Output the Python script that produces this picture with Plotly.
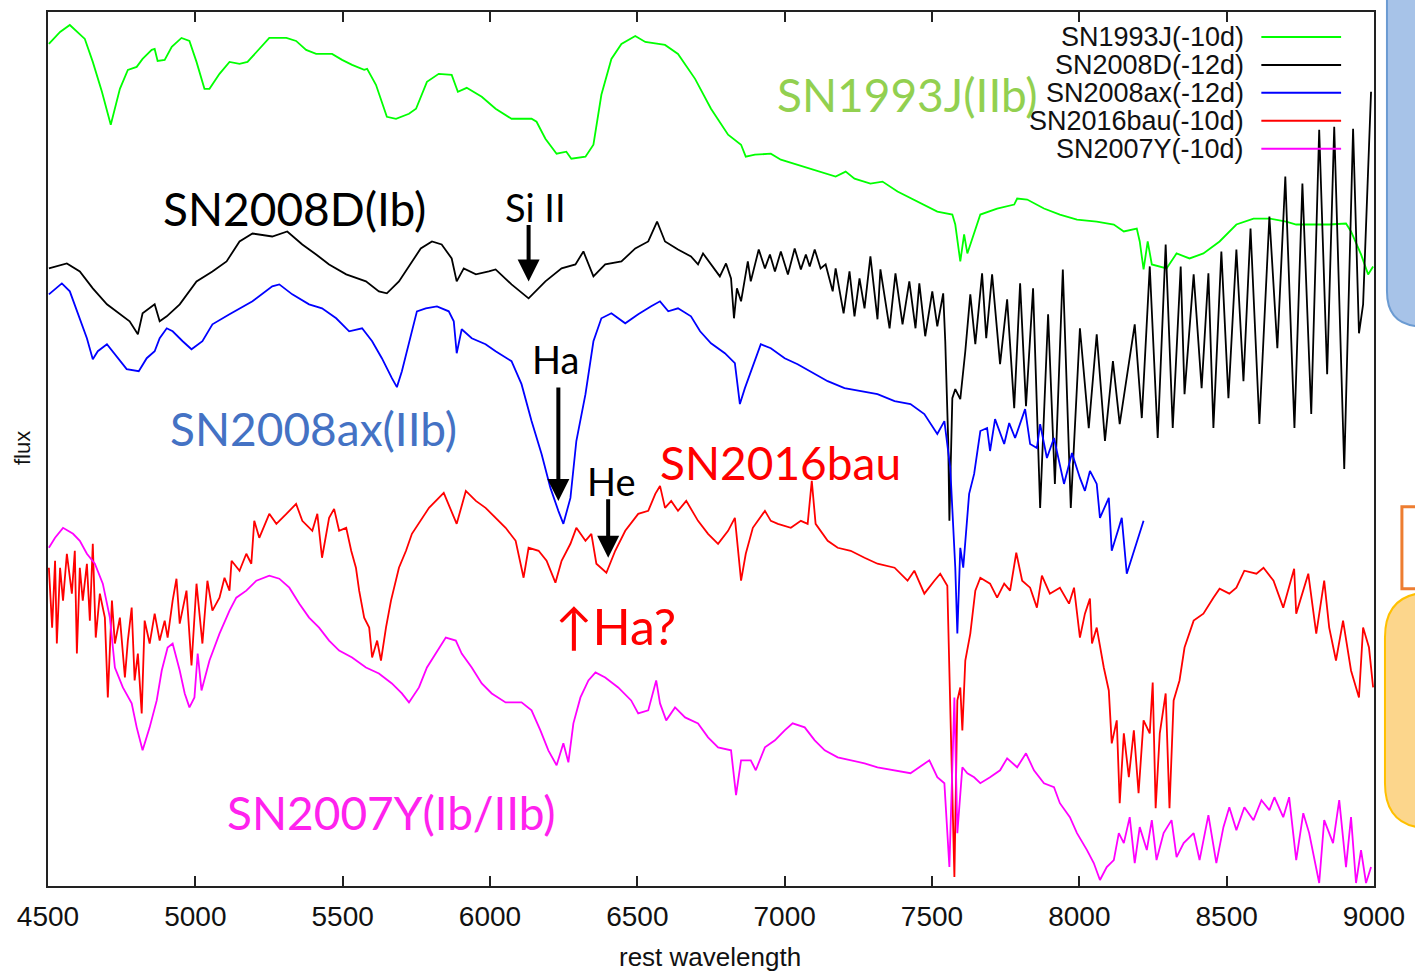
import plotly.graph_objects as go

# ---------------- data (rest wavelength [A], flux [arbitrary, offset]) ----------------
sn1993j = [(4503,844),(4541,856),(4574,863),(4598,856),(4625,849),(4652,826),(4683,796),(4713,763),(4744,799),(4771,818),
 (4801,821),(4821,829),(4852,838),(4862,839),(4872,827),(4896,828),(4920,841),(4953,850),(4980,847),(5004,826),
 (5031,799),(5048,799),(5082,814),(5116,826),(5150,824),(5177,826),(5207,836),(5251,850),(5309,850),(5342,847),
 (5376,838),(5410,834),(5464,834),(5498,828),(5532,823),(5573,818),(5583,819),(5613,803),(5650,771),(5681,769),
 (5725,774),(5749,779),(5786,806),(5826,814),(5870,813),(5891,796),(5921,800),(5972,791),(6019,779),(6073,769),
 (6141,769),(6158,766),(6188,749),(6226,734),(6259,736),(6276,729),(6324,731),(6351,743),(6378,793),(6412,829),
 (6446,844),(6493,852),(6527,846),(6594,843),(6638,834),(6696,809),(6750,779),(6808,753),(6852,743),(6868,731),
 (6899,733),(6953,734),(6987,728),(7044,723),(7102,718),(7173,711),(7207,716),(7237,709),(7291,704),(7332,706),
 (7383,696),(7450,686),(7518,676),(7569,673),(7579,663),(7596,626),(7609,653),(7620,634),(7636,649),(7664,673),
 (7721,679),(7779,683),(7789,689),(7823,688),(7880,679),(7934,673),(7992,668),(8059,666),(8117,663),(8151,656),
 (8195,659),(8205,646),(8218,618),(8232,646),(8246,623),(8296,619),(8330,634),(8374,629),(8421,634),(8476,646),
 (8533,663),(8591,669),(8645,669),(8702,666),(8736,663),(8794,663),(8848,663),(8905,664),(8922,656),(8956,633),
 (8980,613),(8997,621)]

sn2008d = [(4503,619),(4564,624),(4608,616),(4652,599),(4700,583),(4744,573),(4777,566),(4805,553),(4821,574),(4862,583),
 (4879,566),(4903,571),(4947,583),(5004,606),(5058,616),(5106,626),(5150,646),(5194,654),(5261,651),(5312,656),
 (5363,643),(5410,633),(5454,623),(5512,613),(5579,606),(5623,596),(5650,594),(5691,606),(5735,626),(5765,639),
 (5803,646),(5836,643),(5870,629),(5887,606),(5911,619),(5952,613),(5996,616),(6019,618),(6073,603),(6131,589),
 (6188,606),(6243,619),(6290,623),(6317,636),(6351,611),(6391,623),(6446,626),(6493,639),(6537,646),(6567,666),
 (6594,646),(6638,638),(6682,631),(6706,623),(6723,634),(6750,623),(6780,611),(6801,624),(6818,609),(6828,569),
 (6838,599),(6852,586),(6875,626),(6885,606),(6912,638),(6933,619),(6950,633),(6967,616),(6987,636),(7011,613),
 (7034,639),(7055,618),(7072,633),(7085,621),(7102,638),(7122,619),(7139,623),(7163,596),(7173,619),(7200,574),
 (7220,616),(7237,571),(7254,609),(7271,579),(7291,631),(7315,568),(7325,618),(7356,559),(7376,614),(7400,563),
 (7423,606),(7444,559),(7457,604),(7477,551),(7501,596),(7518,561),(7538,594),(7545,546),(7555,446),(7559,366),
 (7569,489),(7579,498),(7596,488),(7613,536),(7630,593),(7647,543),(7670,614),(7684,549),(7704,613),(7731,523),
 (7755,588),(7779,479),(7799,604),(7819,481),(7843,599),(7867,379),(7894,573),(7917,403),(7944,618),(7971,379),
 (8002,559),(8032,459),(8059,553),(8087,446),(8114,526),(8137,463),(8188,563),(8212,469),(8239,621),(8266,449),
 (8293,643),(8317,459),(8344,621),(8357,493),(8388,613),(8415,499),(8438,614),(8455,459),(8482,636),(8506,489),
 (8533,638),(8557,506),(8581,659),(8611,463),(8645,671),(8672,539),(8699,711),(8730,459),(8757,704),(8787,473),
 (8814,758),(8841,513),(8865,761),(8899,418),(8929,759),(8949,554),(8963,583),(8990,796)]

sn2008ax = [(4503,593),(4547,604),(4574,596),(4602,573),(4632,549),(4652,528),(4669,536),(4700,543),(4733,531),(4767,518),
 (4808,516),(4835,529),(4862,536),(4879,549),(4903,559),(4923,556),(4957,546),(4987,538),(5024,546),(5058,563),
 (5116,573),(5150,579),(5194,586),(5261,601),(5285,603),(5329,593),(5386,583),(5430,579),(5478,569),(5522,556),
 (5566,559),(5600,546),(5633,529),(5667,509),(5684,500),(5701,516),(5725,543),(5752,576),(5782,579),(5820,581),
 (5860,576),(5877,566),(5887,534),(5904,558),(5938,549),(5985,543),(6019,536),(6073,526),(6107,503),(6141,466),
 (6175,433),(6205,399),(6232,376),(6249,363),(6273,389),(6293,446),(6324,493),(6351,546),(6378,569),(6412,574),
 (6459,564),(6503,573),(6547,581),(6577,586),(6605,576),(6638,579),(6682,571),(6713,556),(6750,544),(6797,534),
 (6831,524),(6848,483),(6865,499),(6885,516),(6919,543),(6953,539),(7000,529),(7044,523),(7088,516),(7146,506),
 (7203,499),(7258,496),(7315,493),(7373,486),(7427,483),(7474,473),(7518,453),(7542,466),(7562,419),(7579,319),
 (7586,253),(7596,339),(7606,319),(7626,393),(7643,413),(7664,456),(7687,459),(7697,436),(7714,468),(7745,443),
 (7762,464),(7782,449),(7799,464),(7816,478),(7833,443),(7856,439),(7867,463),(7890,429),(7914,449),(7948,403),
 (7975,434),(8002,409),(8019,396),(8036,416),(8059,403),(8070,369),(8100,389),(8110,336),(8134,359),(8144,369),
 (8161,313),(8178,329),(8195,346),(8218,366)]

sn2016bau = [(4503,319),(4514,259),(4524,326),(4530,243),(4541,319),(4551,286),(4564,333),(4581,293),(4591,336),(4598,233),
 (4608,319),(4618,286),(4632,323),(4642,266),(4652,343),(4662,249),(4676,293),(4693,269),(4703,189),(4717,286),
 (4727,243),(4744,269),(4761,209),(4771,246),(4784,279),(4794,206),(4805,233),(4818,173),(4828,266),(4845,243),
 (4862,273),(4879,246),(4896,266),(4906,249),(4923,286),(4936,308),(4947,263),(4970,296),(4987,221),(5004,303),
 (5024,243),(5041,306),(5058,276),(5082,289),(5099,309),(5116,296),(5123,326),(5150,316),(5173,333),(5190,323),
 (5200,366),(5217,349),(5251,373),(5275,363),(5309,373),(5342,383),(5363,366),(5397,356),(5414,373),(5430,329),
 (5454,369),(5471,378),(5488,356),(5512,359),(5529,336),(5545,319),(5556,296),(5573,269),(5590,259),(5600,229),
 (5617,246),(5630,226),(5647,259),(5664,286),(5691,319),(5715,336),(5735,353),(5765,366),(5793,379),(5843,394),
 (5887,363),(5918,396),(5952,386),(5985,379),(6006,373),(6053,359),(6087,346),(6114,309),(6131,339),(6165,336),
 (6192,326),(6222,304),(6243,326),(6273,343),(6293,359),(6324,346),(6344,353),(6361,323),(6395,314),(6425,336),
 (6459,356),(6503,373),(6537,376),(6561,393),(6577,401),(6594,379),(6615,386),(6638,376),(6666,386),(6706,366),
 (6740,353),(6774,343),(6808,356),(6831,369),(6852,306),(6868,333),(6892,359),(6933,376),(6953,366),(6977,363),
 (7021,359),(7055,366),(7078,363),(7092,406),(7105,363),(7146,346),(7180,339),(7224,336),(7271,329),(7315,323),
 (7373,319),(7417,306),(7440,316),(7474,293),(7508,306),(7528,313),(7552,301),(7562,186),(7576,9),(7586,186),
 (7596,199),(7603,156),(7613,226),(7630,253),(7647,296),(7664,309),(7697,303),(7721,289),(7745,303),(7765,296),
 (7786,334),(7806,306),(7833,299),(7856,279),(7873,311),(7900,293),(7934,299),(7965,283),(7982,299),(8002,249),
 (8019,273),(8036,288),(8043,243),(8059,259),(8083,219),(8100,196),(8110,143),(8127,166),(8137,83),(8151,153),
 (8168,109),(8185,156),(8201,93),(8218,166),(8239,153),(8249,204),(8259,78),(8273,153),(8293,193),(8306,78),
 (8320,186),(8340,206),(8357,239),(8388,266),(8421,273),(8455,289),(8476,298),(8509,293),(8533,299),(8560,316),
 (8601,313),(8625,319),(8659,306),(8692,279),(8729,318),(8736,273),(8777,313),(8804,253),(8831,306),(8848,259),
 (8871,226),(8895,266),(8922,216),(8949,189),(8963,259),(8983,239),(8997,199)]

sn2007y = [(4503,339),(4524,349),(4551,359),(4585,353),(4608,346),(4632,333),(4659,323),(4686,303),(4710,269),(4727,219),
 (4754,199),(4784,183),(4801,159),(4821,136),(4845,159),(4869,186),(4886,216),(4906,239),(4923,243),(4947,216),
 (4964,193),(4980,179),(4997,189),(5008,233),(5021,196),(5048,226),(5082,253),(5116,276),(5139,289),(5173,296),
 (5207,306),(5251,311),(5285,308),(5319,299),(5353,283),(5386,269),(5420,259),(5454,246),(5488,236),(5532,229),
 (5579,219),(5623,213),(5667,203),(5701,193),(5725,184),(5759,199),(5786,219),(5816,233),(5850,249),(5884,246),
 (5904,233),(5938,219),(5972,203),(6006,193),(6053,184),(6107,184),(6141,176),(6171,156),(6198,136),(6226,121),
 (6249,143),(6266,124),(6283,163),(6307,189),(6334,206),(6358,214),(6391,209),(6435,199),(6479,186),(6503,173),
 (6537,176),(6564,206),(6577,183),(6598,166),(6628,179),(6662,169),(6706,163),(6740,149),(6774,139),(6818,136),
 (6835,91),(6852,126),(6885,126),(6902,116),(6933,139),(6967,146),(7000,156),(7027,163),(7068,159),(7102,146),
 (7136,136),(7180,129),(7224,126),(7271,123),(7315,119),(7373,116),(7427,113),(7491,126),(7518,109),(7542,103),
 (7559,19),(7576,189),(7586,53),(7603,119),(7620,113),(7643,109),(7664,103),(7697,109),(7731,116),(7755,128),
 (7789,119),(7819,133),(7846,116),(7880,103),(7914,99),(7934,83),(7968,69),(7992,53),(8026,36),(8049,23),
 (8070,6),(8093,19),(8117,26),(8134,53),(8151,43),(8171,69),(8188,23),(8205,59),(8229,36),(8246,66),
 (8262,26),(8286,53),(8313,66),(8330,29),(8354,43),(8388,53),(8408,26),(8438,71),(8465,23),(8489,59),
 (8509,79),(8533,56),(8560,79),(8591,66),(8618,86),(8645,76),(8662,89),(8692,69),(8712,89),(8736,26),
 (8760,73),(8780,53),(8814,3),(8831,66),(8861,43),(8882,86),(8905,19),(8922,69),(8939,3),(8956,36),
 (8973,3),(8990,19)]

spectra = [sn1993j, sn2008d, sn2008ax, sn2016bau, sn2007y]
legend_labels = ["SN1993J(-10d)", "SN2008D(-12d)", "SN2008ax(-12d)", "SN2016bau(-10d)", "SN2007Y(-10d)"]
line_colors = ["#00ff00", "#000000", "#0000ff", "#ff0000", "#ff00ff"]
x_ticks = [4500, 5000, 5500, 6000, 6500, 7000, 7500, 8000, 8500, 9000]

# ---------------- layout geometry ----------------
W, H = 1415, 971
ML, MR, MT, MB = 48, 37, 10, 85
PW, PH = W - ML - MR, H - MT - MB


def px(x):  # pixel x -> paper
    return (x - ML) / PW


def py(y):  # pixel y -> paper
    return (H - MB - y) / PH


fig = go.Figure()
for pts, name, col in zip(spectra, legend_labels, line_colors):
    xs = [p[0] for p in pts]
    ys = [p[1] for p in pts]
    fig.add_trace(go.Scatter(x=xs, y=ys, mode="lines", name=name,
                             line=dict(color=col, width=1.8), showlegend=False))

annotations = []
shapes = []

# gnuplot-style key (text right-aligned, sample line on the right)
for i, (name, col) in enumerate(zip(legend_labels, line_colors)):
    yy = 35 + 28 * i
    annotations.append(dict(xref="paper", yref="paper", x=px(1250), y=py(yy), text=name,
                            showarrow=False, xanchor="right", yanchor="middle",
                            font=dict(family="Liberation Sans", size=27, color="#111")))
    shapes.append(dict(type="line", xref="paper", yref="paper", x0=px(1265), x1=px(1345),
                       y0=py(yy), y1=py(yy), line=dict(color=col, width=2)))

big = "Lato"
labels = [
    ("SN1993J(IIb)", 910, 93, "#92d050", 46),
    ("SN2008D(Ib)", 295, 207, "#000000", 46),
    ("Si II", 537, 205, "#000000", 38),
    ("SN2008ax(IIb)", 314, 427, "#4472c4", 46),
    ("Ha", 557, 358, "#000000", 38),
    ("He", 613, 480, "#000000", 38),
    ("SN2016bau", 783, 462, "#ff0000", 46),
    ("↑Ha?", 617, 625, "#ff0000", 50),
    ("SN2007Y(Ib/IIb)", 393, 812, "#ff22ee", 46),
]
for t, x, y, c, s in labels:
    annotations.append(dict(xref="paper", yref="paper", x=px(x), y=py(y), text=t,
                            showarrow=False, xanchor="center", yanchor="middle",
                            font=dict(family=big, size=s, color=c)))

# feature arrows (tip at wavelength/flux, tail offset in pixels)
arrows = [(6131, 606, -58), (6232, 386, -115), (6401, 329, -60)]
for x, y, ay in arrows:
    annotations.append(dict(x=x, y=y, xref="x", yref="y", ax=0, ay=ay, text="",
                            showarrow=True, arrowhead=2, arrowsize=1.1, arrowwidth=4,
                            arrowcolor="#000", standoff=0))

# axis titles
annotations.append(dict(xref="paper", yref="paper", x=px(712), y=py(957), text="rest wavelength",
                        showarrow=False, xanchor="center", yanchor="middle",
                        font=dict(family="Liberation Sans", size=26, color="#111")))
annotations.append(dict(xref="paper", yref="paper", x=px(22), y=py(447), text="flux", textangle=-90,
                        showarrow=False, xanchor="center", yanchor="middle",
                        font=dict(family="Liberation Sans", size=22, color="#111")))

# slide decorations at the right edge
r = 35
shapes.append(dict(type="path", xref="paper", yref="paper",
                   path=f"M {px(1440)},{py(-10)} L {px(1391)},{py(-10)} L {px(1391)},{py(325 - r)} "
                        f"Q {px(1391)},{py(325)} {px(1391 + r)},{py(325)} L {px(1440)},{py(325)} Z",
                   fillcolor="#a7c3e8", line=dict(color="#6b9bd2", width=2)))
shapes.append(dict(type="rect", xref="paper", yref="paper", x0=px(1406), x1=px(1440),
                   y0=py(588), y1=py(506), fillcolor="#ffffff", line=dict(color="#ed7d31", width=3)))
r2 = 45
shapes.append(dict(type="path", xref="paper", yref="paper",
                   path=f"M {px(1440)},{py(592)} L {px(1389 + r2)},{py(592)} Q {px(1389)},{py(592)} {px(1389)},{py(592 + r2)} "
                        f"L {px(1389)},{py(828 - r2)} Q {px(1389)},{py(828)} {px(1389 + r2)},{py(828)} L {px(1440)},{py(828)} Z",
                   fillcolor="#fcd68c", line=dict(color="#ffc000", width=2)))

fig.update_layout(
    width=W, height=H,
    margin=dict(l=ML, r=MR, t=MT, b=MB),
    paper_bgcolor="white", plot_bgcolor="white",
    annotations=annotations, shapes=shapes, showlegend=False,
    xaxis=dict(range=[4500, 9000], tickvals=x_ticks, ticktext=[str(v) for v in x_ticks],
               ticks="inside", ticklen=10, tickwidth=1.5, tickcolor="#222",
               showline=True, linecolor="#222", linewidth=2, mirror="allticks",
               showgrid=False, zeroline=False, ticklabelstandoff=4,
               tickfont=dict(family="Liberation Sans", size=28, color="#111")),
    yaxis=dict(range=[0, 876], showticklabels=False, ticks="", showline=True,
               linecolor="#222", linewidth=2, mirror=True, showgrid=False, zeroline=False),
)

fig.write_html("out.html")
